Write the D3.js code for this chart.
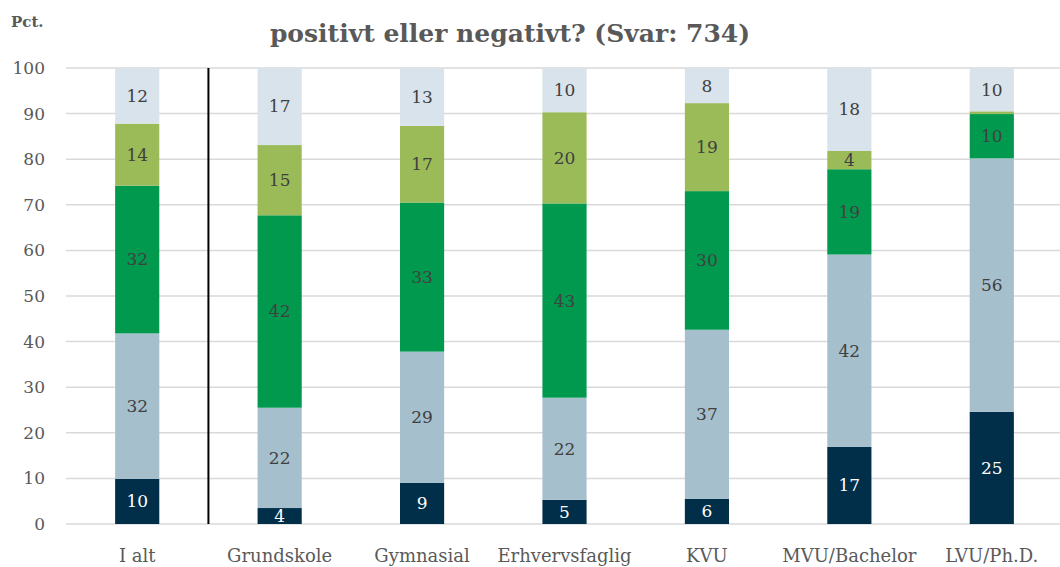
<!DOCTYPE html>
<html>
<head>
<meta charset="utf-8">
<script src="https://cdn.jsdelivr.net/npm/d3@7"></script>
<style>
  body { margin: 0; background: #fff; }
  svg text { font-family: "DejaVu Serif", serif; }
</style>
</head>
<body>
<svg width="1060" height="567"></svg>
<script>
const categories = ['I alt', 'Grundskole', 'Gymnasial', 'Erhvervsfaglig', 'KVU', 'MVU/Bachelor', 'LVU/Ph.D.']

// stacked from the bottom up
const seriesNames = ['s1', 's2', 's3', 's4', 's5']
const s1 = [9.9, 3.5, 9.0, 5.3, 5.5, 16.9, 24.6]
const s2 = [31.9, 22.0, 28.8, 22.4, 37.1, 42.2, 55.6]
const s3 = [32.4, 42.2, 32.7, 42.6, 30.4, 18.7, 9.7]
const s4 = [13.6, 15.4, 16.8, 20.0, 19.3, 4.0, 0.6]
const s5 = [12.2, 16.9, 12.7, 9.7, 7.7, 18.2, 9.5]

const yTicks = [0, 10, 20, 30, 40, 50, 60, 70, 80, 90, 100]

const colors = ['#012e49', '#a5bfcd', '#00994e', '#9bbb59', '#d8e3eb']
const labelColors = ['#ffffff', '#404040', '#404040', '#404040', '#404040']

const svg = d3.select('svg')

const rows = categories.map((c, i) => ({
    cat: c, s1: s1[i], s2: s2[i], s3: s3[i], s4: s4[i], s5: s5[i]
}))
const stacked = d3.stack().keys(seriesNames)(rows)

const x = d3.scaleBand()
    .domain(categories)
    .range([66, 1063])
    .paddingInner(0.69)
    .paddingOuter(0.345)

const y = d3.scaleLinear()
    .domain([0, 100])
    .range([524, 68])

// gridlines
svg.append('g')
    .selectAll('line')
    .data(yTicks)
    .enter()
    .append('line')
    .attr('x1', 66)
    .attr('x2', 1060)
    .attr('y1', d => y(d))
    .attr('y2', d => y(d))
    .attr('stroke', '#d9d9d9')
    .attr('stroke-width', 1.5)

// y tick labels
svg.append('g')
    .selectAll('text')
    .data(yTicks)
    .enter()
    .append('text')
    .attr('x', 45)
    .attr('y', d => y(d))
    .attr('dy', '0.35em')
    .attr('text-anchor', 'end')
    .attr('fill', '#595959')
    .style('font-size', '17px')
    .text(d => d)

// bars
const groups = svg.append('g')
    .selectAll('g')
    .data(stacked)
    .enter()
    .append('g')
    .attr('fill', (d, i) => colors[i])

groups.selectAll('rect')
    .data(d => d)
    .enter()
    .append('rect')
    .attr('x', d => x(d.data.cat))
    .attr('width', x.bandwidth())
    .attr('y', d => y(d[1]))
    .attr('height', d => y(d[0]) - y(d[1]))

// segment labels
stacked.forEach((layer, i) => {
    svg.append('g')
        .selectAll('text')
        .data(layer.filter(d => d[1] - d[0] >= 2))
        .enter()
        .append('text')
        .attr('x', d => x(d.data.cat) + x.bandwidth() / 2)
        .attr('y', d => y((d[0] + d[1]) / 2))
        .attr('dy', '0.35em')
        .attr('text-anchor', 'middle')
        .attr('fill', labelColors[i])
        .style('font-size', '17px')
        .text(d => Math.round(d[1] - d[0]))
})

// separator between total and groups
const sepX = (x('I alt') + x.bandwidth() + x('Grundskole')) / 2
svg.append('line')
    .attr('x1', sepX).attr('x2', sepX)
    .attr('y1', y(100)).attr('y2', y(0))
    .attr('stroke', '#000')
    .attr('stroke-width', 2)

// category labels
svg.append('g')
    .selectAll('text')
    .data(categories)
    .enter()
    .append('text')
    .attr('x', d => x(d) + x.bandwidth() / 2)
    .attr('y', 562)
    .attr('text-anchor', 'middle')
    .attr('fill', '#595959')
    .style('font-size', '18px')
    .text(d => d)

// title
svg.append('text')
    .attr('x', 510)
    .attr('y', 42)
    .attr('text-anchor', 'middle')
    .attr('fill', '#595959')
    .style('font-size', '25px')
    .style('font-weight', 'bold')
    .text('positivt eller negativt? (Svar: 734)')

svg.append('text')
    .attr('x', 11)
    .attr('y', 27)
    .attr('fill', '#595959')
    .style('font-size', '15px')
    .style('font-weight', 'bold')
    .text('Pct.')
</script>
</body>
</html>
